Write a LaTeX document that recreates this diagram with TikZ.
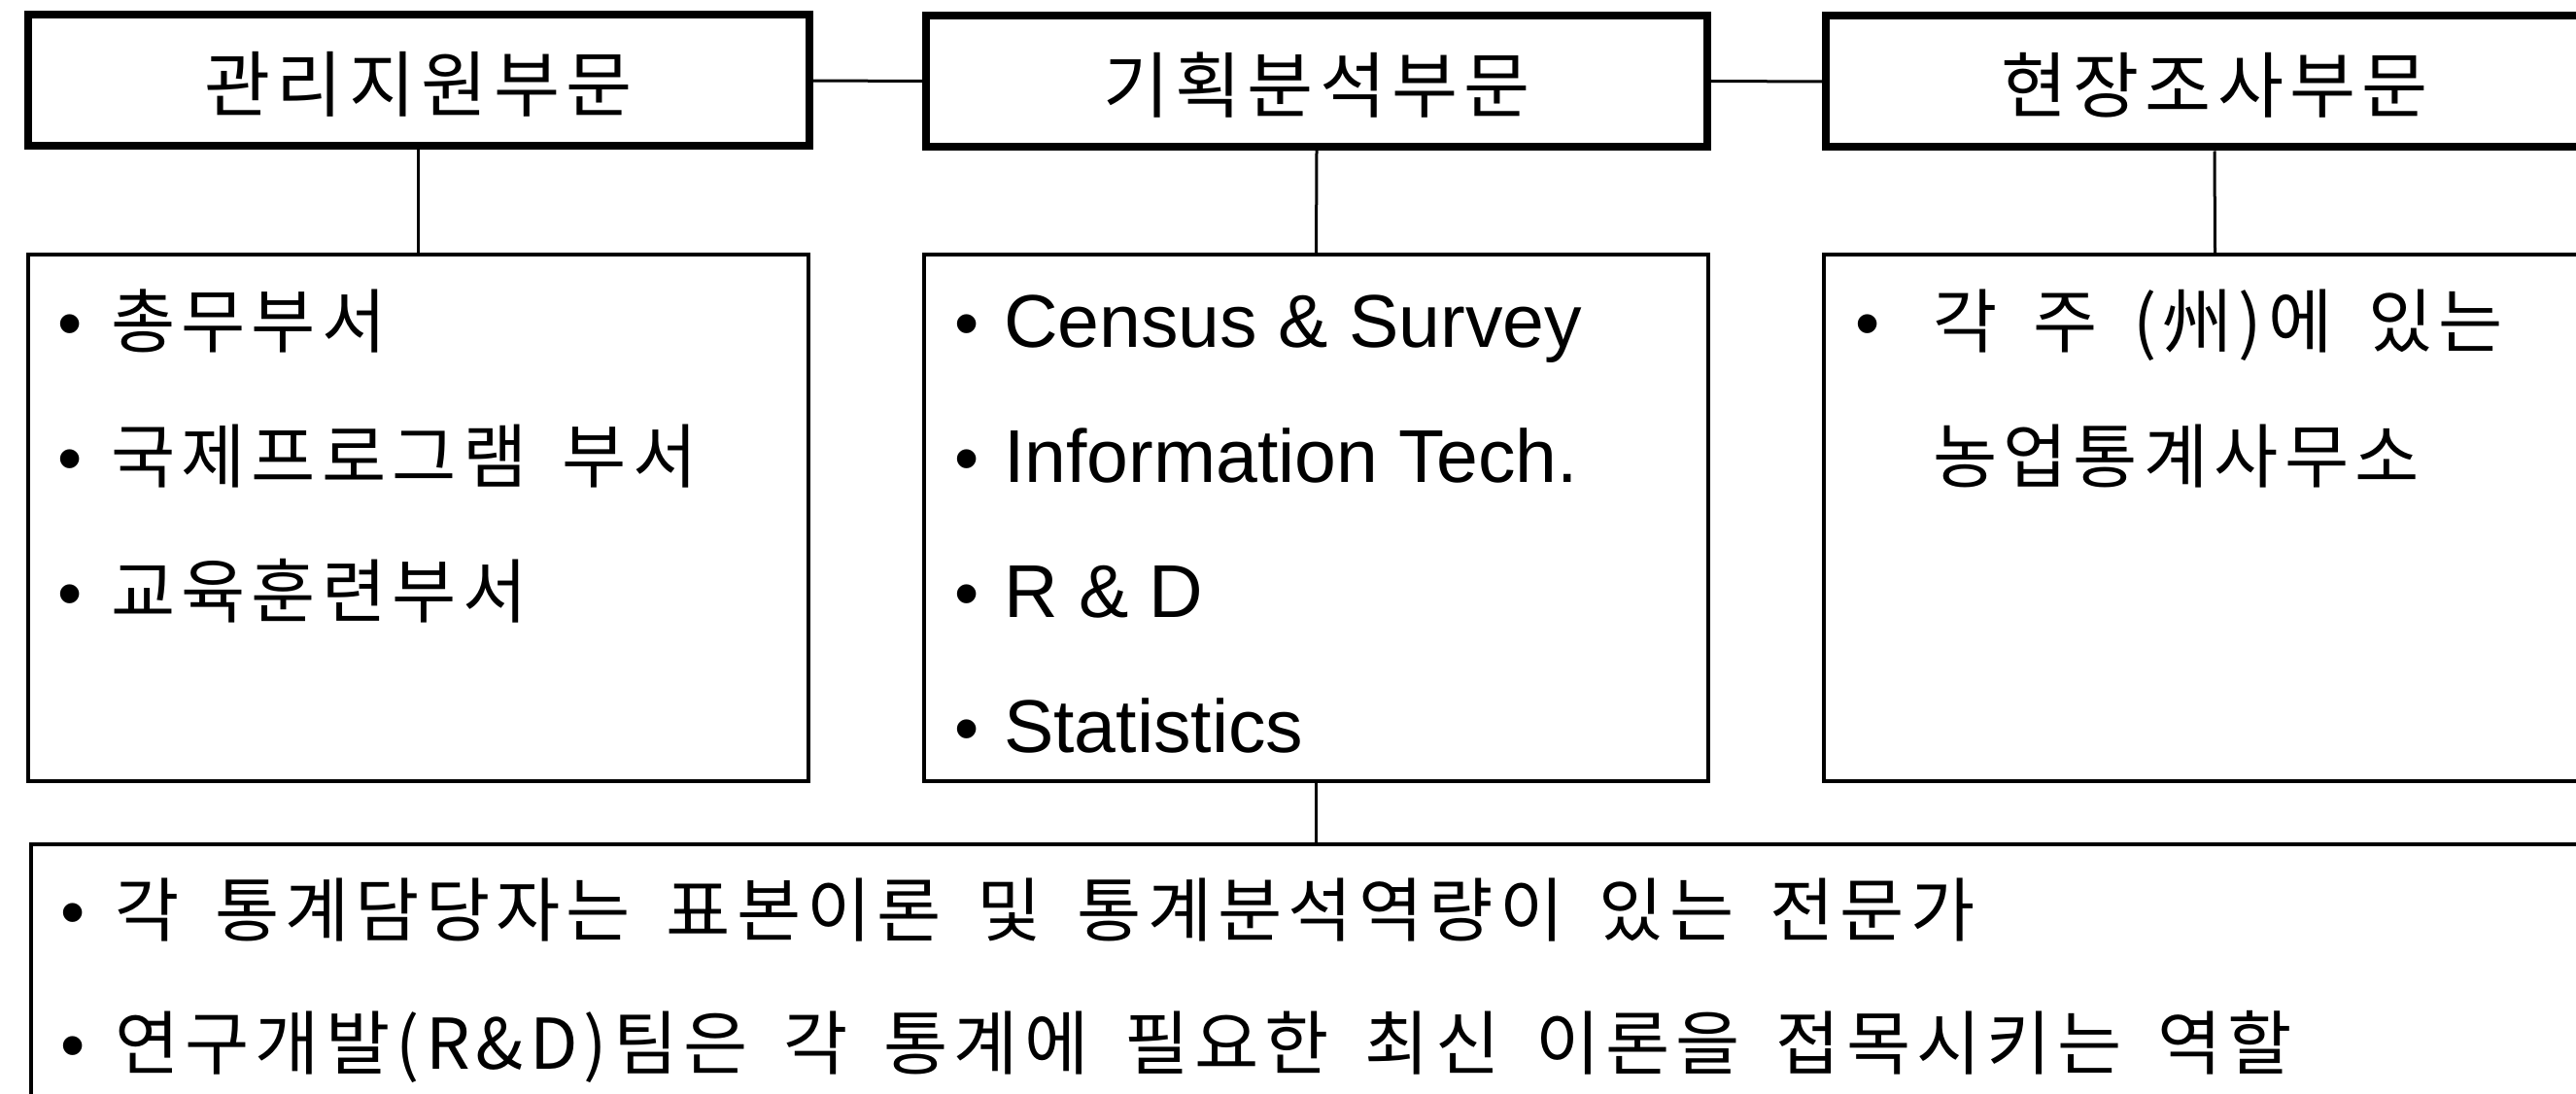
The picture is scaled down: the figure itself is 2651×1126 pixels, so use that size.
\documentclass[tikz,border=0pt]{standalone}
\usepackage{fontspec}
\newfontfamily\kr[WordSpace=1.65,LetterSpace=8.5]{Noto Sans CJK KR}
\newfontfamily\lat{Liberation Sans}
\begin{document}
\begin{tikzpicture}[x=1pt,y=-1pt,
  topbox/.style={draw, line width=8pt, minimum width=804pt, minimum height=135pt, inner sep=0pt, text height=64pt, text depth=0pt, font=\kr\fontsize{74}{80}\selectfont},
  subbox/.style={draw, line width=3.5pt, minimum width=803pt, minimum height=542pt, inner sep=0pt},
  botbox/.style={draw, line width=3.5pt, minimum width=2700pt, minimum height=400pt, anchor=north west, inner sep=0pt},
  link/.style={line width=3pt},
  bul/.style={anchor=base, inner sep=0pt, font=\lat\fontsize{72}{80}\selectfont},
  krline/.style={anchor=base west, inner sep=0pt, font=\kr\fontsize{72}{80}\selectfont},
  enline/.style={anchor=base west, inner sep=0pt, font=\lat\fontsize{77}{80}\selectfont}]
\path[use as bounding box, clip] (0,0) rectangle (2651,1126);
\fill[white] (0,0) rectangle (2651,1126);

% top boxes
\node[topbox] (b1) at (430.5,83) {관리지원부문};
\node[topbox] (b2) at (1355,83.5) {기획분석부문};
\node[topbox, minimum width=800pt] (b3) at (2279,84) {현장조사부문};

% sub boxes
\node[subbox] (s1) at (430.5,533) {};
\node[subbox, minimum width=807pt] (s2) at (1354.5,533) {};
\node[subbox, minimum width=805pt] (s3) at (2279.5,533) {};

% bottom box
\node[botbox] (bot) at (30,867) {};

% connectors
\draw[link] (b1.east) -- (b2.west);
\draw[link] (b2.east) -- (b3.west);
\draw[link] (b1.south) -- (s1.north);
\draw[link] (b2.south) -- (s2.north);
\draw[link] (b3.south) -- (s3.north);
\draw[link] (s2.south) -- (s2.south |- bot.north);

% sub box 1
\node[bul] (s1b1) at (72,357) {•};
\node[krline] (s1t1) at (114,357) {총무부서};
\node[bul] (s1b2) at (72,496) {•};
\node[krline] (s1t2) at (114,496) {국제프로그램 부서};
\node[bul] (s1b3) at (72,635) {•};
\node[krline] (s1t3) at (114,635) {교육훈련부서};

% sub box 2
\node[bul] (s2b1) at (995,357) {•};
\node[enline] (s2t1) at (1033,357) {Census \& Survey};
\node[bul] (s2b2) at (995,496) {•};
\node[enline] (s2t2) at (1033,496) {Information Tech.};
\node[bul] (s2b3) at (995,635) {•};
\node[enline] (s2t3) at (1033,635) {R \& D};
\node[bul] (s2b4) at (995,774) {•};
\node[enline] (s2t4) at (1033,774) {Statistics};

% sub box 3
\node[bul] (s3b1) at (1922,357) {•};
\node[krline] (s3t1) at (1989,357) {각 주 (州)에 있는};
\node[krline] (s3t2) at (1989,496) {농업통계사무소};

% bottom box
\node[bul] (bb1) at (75,963) {•};
\node[krline] (bt1) at (118,963) {각 통계담당자는 표본이론 및 통계분석역량이 있는 전문가};
\node[bul] (bb2) at (75,1100) {•};
\node[krline] (bt2) at (118,1100) {연구개발(R\&D)팀은 각 통계에 필요한 최신 이론을 접목시키는 역할};
\end{tikzpicture}
\end{document}
